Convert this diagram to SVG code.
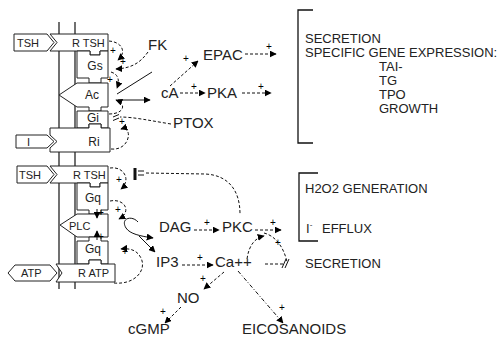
<svg xmlns="http://www.w3.org/2000/svg" width="499" height="344" viewBox="0 0 499 344">
<defs>
<marker id="ah" viewBox="0 0 10 10" refX="9" refY="5" markerWidth="7" markerHeight="7" markerUnits="userSpaceOnUse" orient="auto"><path d="M0,0 L10,5 L0,10 Z" fill="#000"/></marker>
<style>
.t{font-family:"Liberation Sans",Arial,sans-serif;fill:#222}
.lb{font-size:15px}
.rt{font-size:13px}
.mt{font-size:11px}
.gt{font-size:12px}
.pl text{font-family:"Liberation Sans",Arial,sans-serif;font-size:10px;fill:#000}
.sh{fill:#fff;stroke:#222;stroke-width:1}
.mem{stroke:#111;stroke-width:1.2;fill:none}
.d{fill:none;stroke:#111;stroke-width:1;stroke-dasharray:3,2}
.dd{fill:none;stroke:#111;stroke-width:1;stroke-dasharray:4,2,1,2}
.s{fill:none;stroke:#111;stroke-width:1}
.a{marker-end:url(#ah)}
.br{fill:none;stroke:#111;stroke-width:1.3}
</style>
</defs>
<rect width="499" height="344" fill="#fff"/>
<g id="membrane">
<line class="mem" x1="59" y1="22" x2="59" y2="289"/>
<line class="mem" x1="75" y1="22" x2="75" y2="289"/>
</g>
<g id="tsh-ligand-1"><polygon class="sh" points="14,34 47,34 54,42.5 47,51 14,51"/><text class="t mt" x="17" y="46.5">TSH</text></g>
<g id="r-tsh-1"><path class="sh" d="M50,34 H108 V51 H100 V55 H90 V51 H50 L57,42.5 Z"/><text class="t mt" x="72" y="46.5">R TSH</text></g>
<g id="gs"><path class="sh" d="M77,51 H90 V55 H100 V51 H108 V78 H101 V83 H89 V78 H77 Z"/><text class="t gt" x="95" y="70" text-anchor="middle">Gs</text></g>
<g id="ac"><path class="sh" d="M59,95 L77,83 H108 V107 H101 V111 H89 V107 H77 Z"/><text class="t gt" x="92" y="99" text-anchor="middle">Ac</text></g>
<g id="gi"><path class="sh" d="M77,111 H108 V128 H101 V124 H89 V128 H77 Z"/><text class="t gt" x="93" y="122" text-anchor="middle">Gi</text></g>
<g id="i-ligand"><polygon class="sh" points="16,135 47,135 54,141.5 47,148 16,148"/><text class="t mt" x="27" y="146">I</text></g>
<g id="ri"><path class="sh" d="M50,128 H89 V124 H101 V128 H110 V152 H50 V148 L57,141.5 L50,135 Z"/><text class="t gt" x="94" y="146" text-anchor="middle">Ri</text></g>
<g id="tsh-ligand-2"><polygon class="sh" points="17,166 47,166 54,174.5 47,183 17,183"/><text class="t mt" x="19" y="178.5">TSH</text></g>
<g id="r-tsh-2"><path class="sh" d="M50,166 H108 V183 H100 V187 H90 V183 H50 L57,174.5 Z"/><text class="t mt" x="73" y="178.5">R TSH</text></g>
<g id="gq-1"><path class="sh" d="M77,183 H90 V187 H100 V183 H108 V210 H101 V214 H89 V210 H77 Z"/><text class="t gt" x="93" y="202" text-anchor="middle">Gq</text></g>
<g id="plc"><path class="sh" d="M60,225 L77,214 H108 V237 H77 Z"/><text class="t mt" x="69" y="229.5">PLC</text></g>
<g id="gq-2"><path class="sh" d="M77,241 H89 V237 H101 V241 H108 V264 H101 V260 H89 V264 H77 Z"/><text class="t gt" x="93" y="253" text-anchor="middle">Gq</text></g>
<g id="atp-ligand"><polygon class="sh" points="8,273 15,265 50,265 57,273 50,281 15,281"/><text class="t mt" x="21" y="277">ATP</text></g>
<g id="r-atp"><path class="sh" d="M56,264 H89 V260 H101 V264 H115 V282 H56 L62,273 Z"/><text class="t mt" x="78" y="277">R ATP</text></g>

<g id="fk"><text class="t lb" x="148" y="50">FK</text></g>
<g id="epac"><text class="t lb" x="203" y="60">EPAC</text></g>
<g id="ca"><text class="t lb" x="161" y="98">cA</text></g>
<g id="pka"><text class="t lb" x="207" y="98">PKA</text></g>
<g id="ptox"><text class="t lb" x="173" y="128">PTOX</text></g>
<g id="dag"><text class="t lb" x="159" y="232">DAG</text></g>
<g id="pkc"><text class="t lb" x="222" y="232">PKC</text></g>
<g id="ip3"><text class="t lb" x="156" y="267">IP3</text></g>
<g id="ca2"><text class="t lb" x="215" y="267">Ca++</text></g>
<g id="no"><text class="t lb" x="177" y="303">NO</text></g>
<g id="cgmp"><text class="t lb" x="128" y="334">cGMP</text></g>
<g id="eicosanoids"><text class="t lb" x="242" y="334">EICOSANOIDS</text></g>
<g id="secretion-2"><text class="t rt" x="305" y="268">SECRETION</text></g>

<g id="effects-1">
<path class="br" d="M313,10 H298 V143 H313"/>
<text class="t rt" x="305" y="43">SECRETION</text>
<text class="t rt" x="305" y="57">SPECIFIC GENE EXPRESSION:</text>
<text class="t rt" x="379" y="71">TAI-</text>
<text class="t rt" x="379" y="85">TG</text>
<text class="t rt" x="379" y="99">TPO</text>
<text class="t rt" x="379" y="113">GROWTH</text>
</g>
<g id="effects-2">
<path class="br" d="M318,173 H299 V241 H318"/>
<text class="t rt" x="305" y="193">H2O2 GENERATION</text>
<text class="t rt" x="306" y="233">I<tspan font-size="8" dy="-6">-</tspan><tspan x="322" dy="6">EFFLUX</tspan></text>
</g>

<g id="connectors">
<path class="d a" d="M109,41 C122,42 127,52 118,60"/>
<path class="d a" d="M148,52 C140,63 132,68 116,69"/>
<path class="d a" d="M111,72 C118,74 120,80 117,88"/>
<path class="s" d="M152,72 L117,94"/>
<path class="s a" d="M118,100 H150"/>
<path class="d a" d="M109,114 C124,114 127,104 116,100"/>
<path class="d" d="M171,124 C152,121 134,117 120,117"/>
<path class="s" d="M113,117 L119,114.5 M113,120.5 L119,118"/>
<path class="d a" d="M111,149 C131,151 133,125 121,129"/>

<path class="d a" d="M170,86 L198,61"/>
<path class="d a" d="M180,93 L205,93"/>
<path class="d a" d="M245,54 L276,54"/>
<path class="d a" d="M242,93 L271,93"/>

<path class="d a" d="M110,168 C125,166 131,181 121,189"/>
<path class="s" d="M135,168 V180" style="stroke-width:3"/>
<path class="s" d="M138,171 H144 M138,175 H144"/>
<path class="d" d="M146,173 L205,174 C228,175 240,190 240,214"/>
<path class="d a" d="M110,201 C125,198 132,212 119,219"/>
<path class="s a" d="M138,222 C132,215 120,218 126,228 C130,234 140,236 153,238"/>
<path class="s a" d="M139,236 L155,252"/>
<path class="s a" d="M97,209 V218"/>
<path class="s a" d="M97,240 V231"/>
<path class="d a" d="M114,283 C135,285 147,270 141,258 C137,250 130,248 121,249"/>

<path class="d a" d="M194,230 L219,230"/>
<path class="d a" d="M182,265 L213,265"/>
<path class="d a" d="M224,272 L204,289"/>
<path class="d a" d="M181,307 L165,323"/>
<path class="dd a" d="M238,271 L283,323"/>
<path class="d a" d="M255,230 L281,230"/>
<path class="d a" d="M247,259 C249,245 255,238 264,236"/>
<path class="d" d="M264,233 C276,236 284,248 287,262"/>
<path class="d" d="M265,264 H283"/>
<path class="s" d="M282,268 L286,259 M285,268 L289,259"/>

<g class="pl">
<text x="110" y="54">+</text>
<text x="120" y="65">+</text>
<text x="107" y="83">+</text>
<text x="119" y="125">+</text>
<text x="183" y="62">+</text>
<text x="191" y="90">+</text>
<text x="266" y="50">+</text>
<text x="258" y="90">+</text>
<text x="116" y="183">+</text>
<text x="115" y="213">+</text>
<text x="98" y="216">+</text>
<text x="98" y="240">+</text>
<text x="122" y="255">+</text>
<text x="204" y="226">+</text>
<text x="197" y="261">+</text>
<text x="200" y="282">+</text>
<text x="160" y="315">+</text>
<text x="279" y="311">+</text>
<text x="270" y="226">+</text>
<text x="275" y="246">+</text>
</g>
</g>
</svg>
